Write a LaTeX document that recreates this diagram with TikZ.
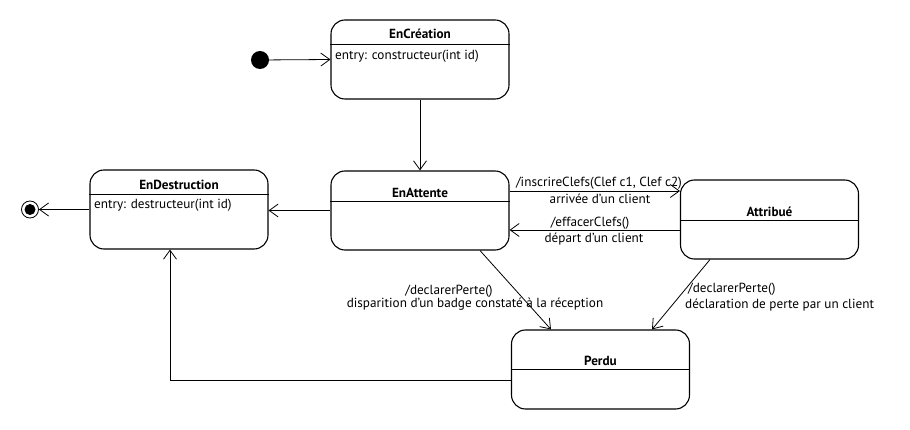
\documentclass[tikz,border=0pt]{standalone}
\usepackage{fontspec}
\setmainfont{PT Sans}
\usetikzlibrary{arrows.meta}
\newcommand{\diagfont}{\fontsize{13.2}{15}\selectfont}
\tikzset{
    statebox/.style={rectangle, rounded corners=14pt, draw=black, line width=1.1pt, minimum width=178pt, minimum height=79pt},
    statetitle/.style={font=\diagfont\bfseries, inner sep=0pt},
    entrytext/.style={anchor=west, inner sep=0pt},
    translabel/.style={inner sep=0pt, text centered},
    myarrow/.style={->, >={Straight Barb[length=9pt,width=13pt]}, line width=0.8pt}
}
\begin{document}
\begin{tikzpicture}[x=1pt,y=-1pt,font=\diagfont]
    \useasboundingbox (0,0) rectangle (910,430);
    % pseudo-etats
    \node[circle, fill=black, minimum size=18pt, inner sep=0pt] (start) at (260,60) {};
    \node[circle, draw=black, line width=0.8pt, minimum size=17pt, inner sep=0pt] (stop) at (30,209.5) {};
    \fill (stop.center) circle (5.5pt);
    % etats
    \draw (420,59.5) node[statebox] (encreation) {};
    \draw ([yshift=-25pt]encreation.north west) -- ([yshift=-25pt]encreation.north east);
    \draw (420,34) node[statetitle] (titlecreation) {EnCréation};
    \draw (335,56) node[entrytext] (entrycreation) {entry: constructeur(int id)};
    \draw (179,209.5) node[statebox] (endestruction) {};
    \draw ([yshift=-25pt]endestruction.north west) -- ([yshift=-25pt]endestruction.north east);
    \draw (179,185) node[statetitle] (titledestruction) {EnDestruction};
    \draw (94,205) node[entrytext] (entrydestruction) {entry: destructeur(int id)};
    \draw (420,210.5) node[statebox] (enattente) {};
    \draw ([yshift=-31pt]enattente.north west) -- ([yshift=-31pt]enattente.north east);
    \draw (420,193) node[statetitle] (titleattente) {EnAttente};
    \draw (769.5,219.5) node[statebox] (attribue) {};
    \draw ([yshift=-41pt]attribue.north west) -- ([yshift=-41pt]attribue.north east);
    \draw (769.5,212) node[statetitle] (titleattribue) {Attribué};
    \draw (600.5,369.5) node[statebox] (perdu) {};
    \draw ([yshift=-40pt]perdu.north west) -- ([yshift=-40pt]perdu.north east);
    \draw (600.5,361) node[statetitle] (titleperdu) {Perdu};
    % transitions
    \draw[myarrow] (start) -- (encreation.west);
    \draw[myarrow] (encreation) -- (enattente);
    \draw[myarrow] (enattente.west) -- (enattente.west -| endestruction.east);
    \draw[myarrow] (endestruction.west) -- (stop);
    \draw[myarrow] ([yshift=19.5pt]enattente.east) -- ([yshift=19.5pt]enattente.east -| attribue.west);
    \draw (599,183) node[translabel] (lblinscrire) {/inscrireClefs(Clef c1, Clef c2)};
    \draw (600,199) node[translabel] (lblarrivee) {arrivée d'un client};
    \draw[myarrow] ([yshift=-10.5pt]attribue.west) -- ([yshift=-10.5pt]attribue.west -| enattente.east);
    \draw (590,223) node[translabel] (lbleffacer) {/effacerClefs()};
    \draw (594,239) node[translabel] (lbldepart) {départ d'un client};
    \draw[myarrow] ([xshift=60pt]enattente.south) -- ([xshift=-49.5pt]perdu.north);
    \draw (449,291) node[translabel] (lblperteattente) {/declarerPerte()};
    \draw (475,304) node[translabel] (lbldisparition) {disparition d'un badge constaté à la réception};
    \draw[myarrow] ([xshift=-59.5pt]attribue.south) -- ([xshift=51.5pt]perdu.north);
    \draw (688,289) node[translabel, anchor=west] (lblperteattribue) {/declarerPerte()};
    \draw (685,305) node[translabel, anchor=west] (lbldeclaration) {déclaration de perte par un client};
    \draw[myarrow] ([yshift=-10.5pt]perdu.west) -| ([xshift=-9pt]endestruction.south);
\end{tikzpicture}
\end{document}
